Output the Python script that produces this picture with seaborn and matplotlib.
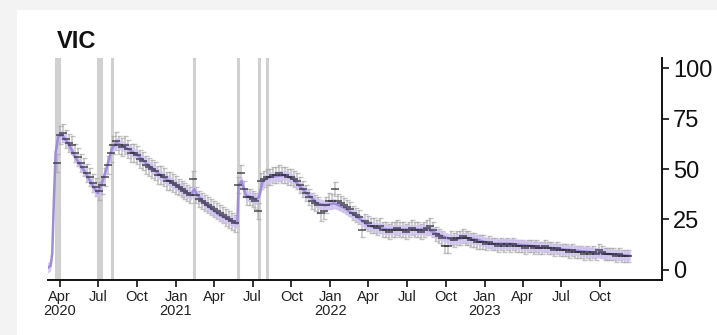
import matplotlib
matplotlib.use("Agg")
import numpy as np
import pandas as pd
import matplotlib.pyplot as plt
import seaborn as sns
from matplotlib.patches import Rectangle

# ---------------- data ----------------
first_week = "2020-03-26"          # weekly survey points start here

vals_2020 = [53, 67, 68, 65, 63, 62, 58, 56, 53, 51, 48, 46, 43, 41, 39, 42, 46, 52,
             58, 62, 64, 62, 61, 62, 60, 58, 58, 57, 55, 54, 52, 51, 50, 49, 47, 47,
             46, 44, 44, 43, 42]
vals_2021 = [41, 40, 39, 38, 37, 45, 37, 35, 34, 33, 32, 31, 30, 29, 28, 27, 26, 25,
             24, 23, 42, 48, 40, 36, 36, 35, 34, 29, 44, 45, 46, 46, 47, 47, 48, 47,
             47, 46, 46, 45, 44, 42, 40, 38, 36, 34, 33, 32, 28, 29, 32, 34]
vals_2022 = [34, 40, 34, 33, 32, 31, 30, 28, 27, 26, 20, 24, 23, 22, 22, 21, 22, 20,
             20, 19, 20, 20, 21, 20, 20, 19, 20, 21, 20, 20, 19, 20, 21, 22, 20, 18,
             17, 16, 12, 12, 16, 15, 16, 16, 17, 16, 16, 15, 15, 14, 14, 14]
vals_2023 = [13, 14, 13, 13, 12, 13, 12, 13, 12, 13, 12, 12, 12, 11, 12, 12, 11, 12,
             11, 11, 12, 11, 11, 10, 11, 10, 10, 10, 9, 10, 9, 9, 9, 8, 9, 8, 9, 8,
             10, 9, 8, 8, 8, 8, 7, 8, 7, 7, 7]
err_by_year = {2020: 4.5, 2021: 4.0, 2022: 3.5, 2023: 3.0}

trend_dates = ["2020-03-03", "2020-03-10", "2020-03-14", "2020-03-18", "2020-03-22",
               "2020-03-28", "2020-04-05", "2020-04-20", "2020-05-10", "2020-06-01",
               "2020-06-20", "2020-06-30", "2020-07-08", "2020-07-20", "2020-08-02",
               "2020-08-12", "2020-09-01", "2020-10-01", "2020-11-01", "2020-12-01",
               "2021-01-01", "2021-02-05", "2021-02-13", "2021-02-20", "2021-03-15",
               "2021-04-15", "2021-05-26", "2021-05-29", "2021-06-05", "2021-06-15",
               "2021-07-10", "2021-07-16", "2021-07-25", "2021-08-10", "2021-09-15",
               "2021-10-05", "2021-11-01", "2021-12-01", "2021-12-20", "2022-01-10",
               "2022-02-01", "2022-03-01", "2022-04-01", "2022-05-15", "2022-07-01",
               "2022-08-20", "2022-09-20", "2022-10-15", "2022-11-15", "2022-12-15",
               "2023-01-15", "2023-03-01", "2023-04-15", "2023-06-01", "2023-07-15",
               "2023-09-01", "2023-10-15", "2023-12-12"]
trend_values = [1, 2, 8, 35, 58, 66, 67, 63, 55, 48,
                41, 38, 42, 50, 60, 63, 61, 57, 51, 46,
                42, 37, 40, 37, 32, 27, 23, 42, 44, 37,
                35, 36, 44, 46, 47, 45, 39, 33, 32, 33,
                31, 27, 22, 20, 20, 20, 17, 15, 16, 15,
                13, 13, 12, 11, 10, 9, 8, 7]
ribbon_half = 2.6

lockdown_dates = ["2020-03-23", "2020-03-31", "2020-07-01", "2020-07-08", "2020-08-02",
                  "2021-02-13", "2021-05-28", "2021-07-16", "2021-08-05"]

tick_dates = ["2020-04-01", "2020-07-01", "2020-10-01", "2021-01-01", "2021-04-01",
              "2021-07-01", "2021-10-01", "2022-01-01", "2022-04-01", "2022-07-01",
              "2022-10-01", "2023-01-01", "2023-04-01", "2023-07-01", "2023-10-01"]
tick_labels = ["Apr\n2020", "Jul", "Oct", "Jan\n2021", "Apr", "Jul", "Oct", "Jan\n2022",
               "Apr", "Jul", "Oct", "Jan\n2023", "Apr", "Jul", "Oct"]
y_ticks = [0, 25, 50, 75, 100]
title = "VIC"

# ---------------- assemble ----------------
values = vals_2020 + vals_2021 + vals_2022 + vals_2023
dates = pd.date_range(first_week, periods=len(values), freq="7D")
errs = [err_by_year[d.year] for d in dates]
points = pd.DataFrame({"date": dates, "value": values, "err": errs})

trend = pd.DataFrame({"date": pd.to_datetime(trend_dates), "value": trend_values})

# ---------------- plot ----------------
sns.set_theme(style="ticks")
plt.rcParams['font.family'] = ['Liberation Sans', 'DejaVu Sans']

W, H = 717, 335
fig = plt.figure(figsize=(W / 100, H / 100), dpi=100, facecolor="#f3f3f3")
fig.patches.append(Rectangle((17 / W, 0), 1, 1 - 10 / H, transform=fig.transFigure,
                             facecolor="white", edgecolor="none", zorder=-10))
ax = fig.add_axes([48 / W, 1 - 280 / H, (662 - 48) / W, (280 - 58) / H])
ax.set_zorder(5)
ax.set_facecolor("white")

for d in lockdown_dates:
    ax.axvline(pd.Timestamp(d), color="#d0d0d0", lw=2.2, zorder=1)

ax.errorbar(points["date"], points["value"], yerr=points["err"], fmt="none",
            ecolor="#a8a8a8", elinewidth=1.1, capsize=1.8, capthick=1.0, alpha=0.7, zorder=2)
ax.fill_between(trend["date"], trend["value"] - ribbon_half, trend["value"] + ribbon_half,
                color="#cfc2ee", alpha=0.85, lw=0, zorder=3)
sns.lineplot(data=trend, x="date", y="value", color="#9f8cd8", lw=1.8, ax=ax, zorder=4)
ax.plot(points["date"], points["value"], ls="none", marker="_", ms=5.5, mew=1.1,
        color="#2e2e3a", alpha=0.85, zorder=5)

ax.set_xlim(pd.Timestamp("2020-03-04"), pd.Timestamp("2024-02-25"))
ax.set_ylim(-5, 105)
ax.set_yticks(y_ticks)
ax.set_yticklabels([str(v) for v in y_ticks])
ax.set_xticks(pd.to_datetime(tick_dates))
ax.set_xticklabels(tick_labels, linespacing=1.0)
ax.set_xlabel("")
ax.set_ylabel("")

sns.despine(ax=ax, left=True, right=False, top=True, bottom=False)
for s in ("right", "bottom"):
    ax.spines[s].set_color("#111111")
    ax.spines[s].set_linewidth(1.4)
ax.yaxis.tick_right()
ax.tick_params(axis="y", right=True, left=False, labelright=True, labelleft=False,
               length=5, width=1.2, color="#111111", labelsize=17, pad=3, labelcolor="#111111")
ax.tick_params(axis="x", length=5, width=1.2, color="#111111", labelsize=10.5, pad=2,
               labelcolor="#222222")

fig.text(57 / W, 1 - 48 / H, title, fontsize=17, fontweight="bold", va="baseline",
         ha="left", color="#111111")

fig.savefig("out.png", dpi=100, facecolor=fig.get_facecolor())
